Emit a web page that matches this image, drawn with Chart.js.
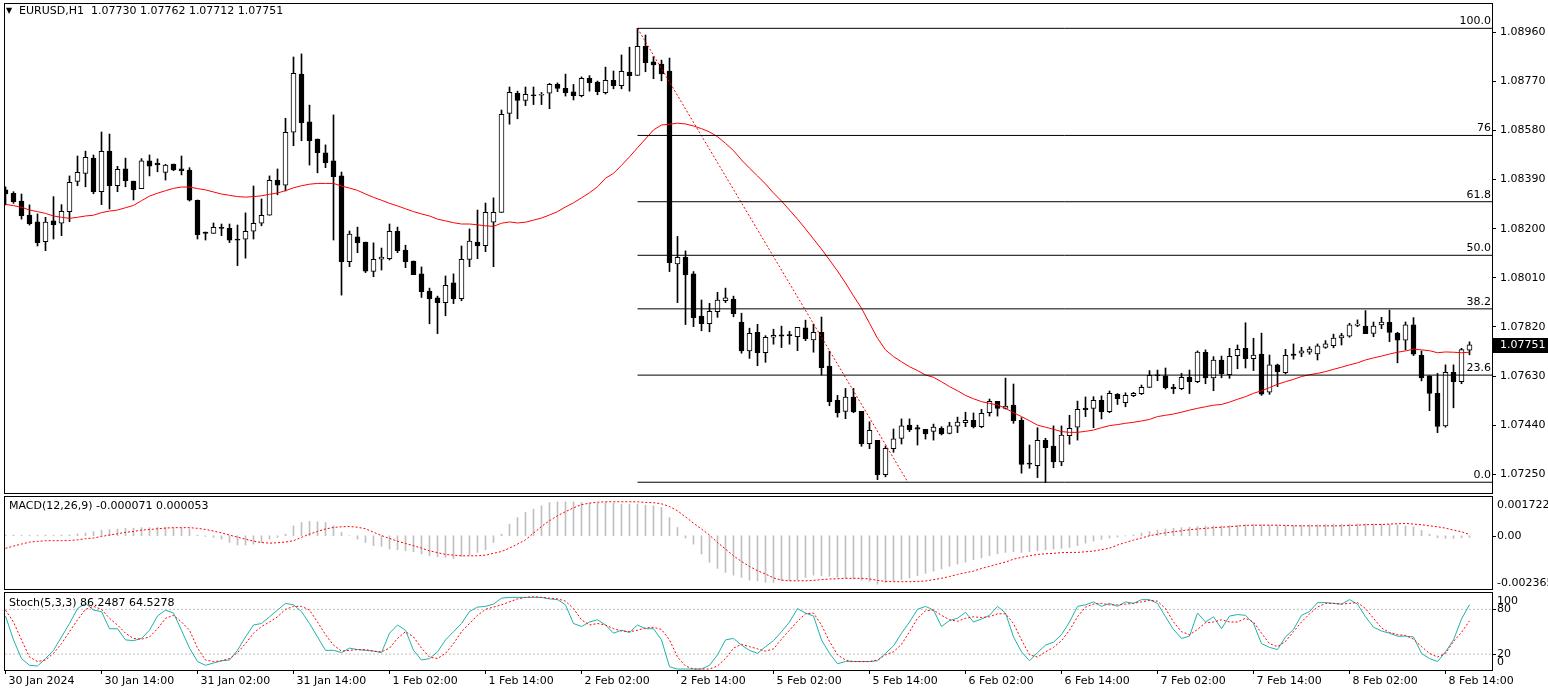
<!DOCTYPE html>
<html>
<head>
<meta charset="utf-8">
<title>EURUSD,H1</title>
<script src="https://cdn.jsdelivr.net/npm/chart.js@4.4.1/dist/chart.umd.min.js"></script>
<style>
    html, body { margin: 0; padding: 0; background: #ffffff; }
    #wrap { position: relative; width: 1548px; height: 693px; overflow: hidden; background: #ffffff; }
    #wrap canvas { position: absolute; left: 0; }
</style>
</head>
<body>
<div id="wrap">
    <canvas id="mainChart" width="1548" height="495" style="top:0px"></canvas>
    <canvas id="macdChart" width="1548" height="96" style="top:495px"></canvas>
    <canvas id="stochChart" width="1548" height="102" style="top:591px"></canvas>
</div>
<script>
const symbolText = 'EURUSD,H1';

const opens = [
    1.08350,1.08337,1.08307,1.08253,1.08226,1.08150,1.08230,1.08221,1.08266,1.08383,
    1.08414,1.08473,1.08343,1.08500,1.08366,1.08431,1.08384,1.08355,1.08462,1.08454,
    1.08418,1.08450,1.08431,1.08427,1.08310,1.08187,1.08182,1.08203,1.08201,1.08160,
    1.08159,1.08190,1.08221,1.08252,1.08387,1.08368,1.08573,1.08798,1.08613,1.08547,
    1.08493,1.08462,1.08404,1.08072,1.08168,1.08148,1.08035,1.08082,1.08084,1.08190,
    1.08117,1.08075,1.08025,1.07959,1.07932,1.07914,1.07990,1.07929,1.08081,1.08148,
    1.08134,1.08225,1.08263,1.08646,1.08724,1.08696,1.08716,1.08716,1.08724,1.08758,
    1.08743,1.08729,1.08714,1.08782,1.08767,1.08726,1.08774,1.08753,1.08806,1.08793,
    1.08905,1.08845,1.08837,1.08810,1.08064,1.08089,1.08025,1.07862,1.07832,1.07879,
    1.07921,1.07928,1.07839,1.07727,1.07799,1.07720,1.07780,1.07789,1.07787,1.07782,
    1.07816,1.07770,1.07799,1.07668,1.07536,1.07493,1.07548,1.07493,1.07368,1.07381,
    1.07248,1.07349,1.07389,1.07440,1.07430,1.07424,1.07416,1.07428,1.07408,1.07436,
    1.07449,1.07459,1.07434,1.07488,1.07532,1.07505,1.07518,1.07459,1.07290,1.07283,
    1.07381,1.07359,1.07298,1.07399,1.07432,1.07506,1.07505,1.07536,1.07492,1.07559,
    1.07527,1.07554,1.07562,1.07586,1.07633,1.07631,1.07587,1.07581,1.07625,1.07608,
    1.07722,1.07623,1.07692,1.07635,1.07709,1.07737,1.07697,1.07715,1.07567,1.07673,
    1.07643,1.07715,1.07718,1.07722,1.07715,1.07741,1.07747,1.07777,1.07784,1.07826,
    1.07823,1.07795,1.07828,1.07838,1.07796,1.07769,1.07828,1.07710,1.07631,1.07563,
    1.07437,1.07644,1.07608,1.07730
];
const highs = [
    1.08362,1.08343,1.08334,1.08292,1.08257,1.08244,1.08324,1.08293,1.08404,1.08481,
    1.08500,1.08485,1.08574,1.08566,1.08441,1.08473,1.08384,1.08471,1.08485,1.08470,
    1.08449,1.08450,1.08481,1.08436,1.08311,1.08187,1.08222,1.08218,1.08218,1.08214,
    1.08261,1.08365,1.08315,1.08404,1.08431,1.08627,1.08864,1.08876,1.08678,1.08547,
    1.08524,1.08640,1.08419,1.08191,1.08206,1.08148,1.08145,1.08125,1.08218,1.08206,
    1.08136,1.08075,1.08052,1.07970,1.07939,1.08017,1.08025,1.08133,1.08199,1.08272,
    1.08299,1.08319,1.08659,1.08748,1.08732,1.08748,1.08748,1.08727,1.08762,1.08764,
    1.08798,1.08758,1.08787,1.08792,1.08771,1.08825,1.08810,1.08872,1.08902,1.08975,
    1.08949,1.08865,1.08852,1.08860,1.08170,1.08114,1.08034,1.07924,1.07911,1.07954,
    1.07970,1.07939,1.07873,1.07815,1.07830,1.07786,1.07811,1.07823,1.07803,1.07818,
    1.07846,1.07831,1.07858,1.07726,1.07555,1.07582,1.07582,1.07493,1.07453,1.07381,
    1.07359,1.07425,1.07464,1.07464,1.07440,1.07424,1.07444,1.07434,1.07451,1.07471,
    1.07490,1.07487,1.07501,1.07541,1.07532,1.07622,1.07599,1.07469,1.07363,1.07430,
    1.07389,1.07437,1.07437,1.07478,1.07533,1.07549,1.07550,1.07553,1.07572,1.07562,
    1.07565,1.07567,1.07595,1.07651,1.07653,1.07661,1.07598,1.07640,1.07653,1.07727,
    1.07731,1.07705,1.07707,1.07737,1.07750,1.07836,1.07776,1.07796,1.07711,1.07676,
    1.07733,1.07754,1.07741,1.07743,1.07754,1.07767,1.07792,1.07795,1.07834,1.07847,
    1.07883,1.07839,1.07857,1.07885,1.07799,1.07839,1.07856,1.07727,1.07631,1.07640,
    1.07673,1.07673,1.07737,1.07762
];
const lows = [
    1.08292,1.08298,1.08237,1.08214,1.08133,1.08115,1.08160,1.08173,1.08227,1.08366,
    1.08362,1.08335,1.08293,1.08276,1.08343,1.08362,1.08311,1.08355,1.08404,1.08420,
    1.08388,1.08424,1.08408,1.08307,1.08160,1.08156,1.08182,1.08173,1.08146,1.08057,
    1.08086,1.08160,1.08211,1.08252,1.08331,1.08346,1.08521,1.08540,1.08446,1.08416,
    1.08436,1.08156,1.07943,1.08053,1.08107,1.08030,1.08014,1.08040,1.08079,1.08107,
    1.08049,1.08022,1.07934,1.07832,1.07794,1.07863,1.07910,1.07921,1.08053,1.08084,
    1.08111,1.08053,1.08263,1.08604,1.08625,1.08676,1.08680,1.08680,1.08664,1.08730,
    1.08713,1.08698,1.08710,1.08732,1.08718,1.08721,1.08741,1.08741,1.08732,1.08793,
    1.08807,1.08780,1.08772,1.08034,1.07914,1.07829,1.07821,1.07805,1.07801,1.07857,
    1.07914,1.07859,1.07718,1.07698,1.07670,1.07683,1.07753,1.07740,1.07753,1.07728,
    1.07767,1.07722,1.07634,1.07515,1.07471,1.07465,1.07488,1.07358,1.07349,1.07229,
    1.07240,1.07335,1.07367,1.07415,1.07363,1.07386,1.07382,1.07402,1.07406,1.07411,
    1.07434,1.07429,1.07430,1.07475,1.07475,1.07502,1.07447,1.07254,1.07273,1.07237,
    1.07218,1.07275,1.07283,1.07366,1.07382,1.07473,1.07430,1.07464,1.07488,1.07520,
    1.07511,1.07550,1.07558,1.07586,1.07612,1.07580,1.07562,1.07577,1.07562,1.07604,
    1.07600,1.07573,1.07623,1.07621,1.07658,1.07661,1.07651,1.07555,1.07559,1.07589,
    1.07638,1.07695,1.07705,1.07714,1.07692,1.07737,1.07739,1.07750,1.07780,1.07821,
    1.07794,1.07782,1.07813,1.07763,1.07681,1.07731,1.07709,1.07611,1.07496,1.07411,
    1.07432,1.07507,1.07600,1.07712
];
const closes = [
    1.08334,1.08304,1.08250,1.08219,1.08146,1.08225,1.08215,1.08267,1.08379,1.08418,
    1.08476,1.08343,1.08499,1.08366,1.08430,1.08386,1.08351,1.08462,1.08442,1.08447,
    1.08446,1.08427,1.08424,1.08310,1.08177,1.08182,1.08205,1.08201,1.08155,1.08155,
    1.08190,1.08221,1.08252,1.08387,1.08368,1.08573,1.08801,1.08610,1.08540,1.08494,
    1.08455,1.08401,1.08072,1.08179,1.08146,1.08036,1.08081,1.08090,1.08190,1.08115,
    1.08072,1.08022,1.07956,1.07929,1.07914,1.07981,1.07929,1.08081,1.08152,1.08133,
    1.08263,1.08263,1.08642,1.08727,1.08696,1.08720,1.08714,1.08716,1.08758,1.08743,
    1.08726,1.08714,1.08782,1.08765,1.08730,1.08774,1.08753,1.08809,1.08792,1.08905,
    1.08842,1.08833,1.08799,1.08068,1.08089,1.08021,1.07856,1.07832,1.07880,1.07924,
    1.07932,1.07871,1.07727,1.07795,1.07720,1.07780,1.07787,1.07784,1.07786,1.07818,
    1.07774,1.07799,1.07662,1.07531,1.07488,1.07548,1.07491,1.07367,1.07420,1.07248,
    1.07350,1.07387,1.07437,1.07422,1.07424,1.07406,1.07432,1.07406,1.07437,1.07452,
    1.07459,1.07433,1.07486,1.07532,1.07505,1.07514,1.07457,1.07288,1.07289,1.07381,
    1.07353,1.07298,1.07401,1.07428,1.07501,1.07500,1.07536,1.07492,1.07563,1.07542,
    1.07555,1.07563,1.07586,1.07633,1.07631,1.07585,1.07581,1.07625,1.07608,1.07723,
    1.07623,1.07692,1.07639,1.07706,1.07733,1.07697,1.07711,1.07560,1.07673,1.07647,
    1.07710,1.07710,1.07727,1.07734,1.07747,1.07754,1.07777,1.07786,1.07828,1.07831,
    1.07794,1.07823,1.07839,1.07799,1.07769,1.07828,1.07714,1.07623,1.07563,1.07435,
    1.07644,1.07608,1.07732,1.07751
];
const maValues = [
    1.08294,1.08289,1.08283,1.08272,1.08266,1.08259,1.08249,1.08244,1.08240,1.08244,
    1.08249,1.08252,1.08262,1.08268,1.08272,1.08281,1.08290,1.08308,1.08326,1.08337,
    1.08347,1.08356,1.08361,1.08361,1.08355,1.08350,1.08342,1.08334,1.08329,1.08324,
    1.08322,1.08324,1.08327,1.08333,1.08338,1.08347,1.08358,1.08366,1.08372,1.08375,
    1.08375,1.08375,1.08365,1.08357,1.08348,1.08334,1.08321,1.08310,1.08298,1.08288,
    1.08277,1.08266,1.08257,1.08249,1.08237,1.08230,1.08223,1.08218,1.08218,1.08215,
    1.08211,1.08209,1.08221,1.08226,1.08222,1.08225,1.08233,1.08241,1.08253,1.08266,
    1.08284,1.08300,1.08319,1.08339,1.08362,1.08395,1.08414,1.08445,1.08478,1.08513,
    1.08547,1.08582,1.08601,1.08604,1.08608,1.08605,1.08597,1.08587,1.08574,1.08556,
    1.08530,1.08502,1.08466,1.08434,1.08404,1.08373,1.08338,1.08307,1.08272,1.08237,
    1.08199,1.08160,1.08121,1.08079,1.08036,1.07990,1.07940,1.07892,1.07834,1.07776,
    1.07731,1.07705,1.07685,1.07666,1.07651,1.07634,1.07625,1.07608,1.07589,1.07573,
    1.07555,1.07542,1.07531,1.07524,1.07518,1.07505,1.07488,1.07473,1.07457,1.07440,
    1.07432,1.07424,1.07415,1.07412,1.07412,1.07416,1.07421,1.07430,1.07438,1.07442,
    1.07447,1.07451,1.07456,1.07462,1.07473,1.07478,1.07483,1.07490,1.07498,1.07505,
    1.07511,1.07517,1.07520,1.07529,1.07540,1.07550,1.07563,1.07573,1.07585,1.07598,
    1.07608,1.07617,1.07628,1.07635,1.07640,1.07647,1.07656,1.07664,1.07673,1.07681,
    1.07692,1.07700,1.07707,1.07715,1.07722,1.07727,1.07734,1.07731,1.07728,1.07720,
    1.07723,1.07722,1.07720,1.07722
];

const macdHist = [
    0.00003,0.00003,0.00002,0.00002,0.00002,0.00003,0.00002,0.00003,0.00004,0.00008,
    0.00012,0.00018,0.00025,0.00027,0.00030,0.00033,0.00034,0.00036,0.00036,0.00037,
    0.00037,0.00034,0.00034,0.00030,0.00003,-0.00003,-0.00007,-0.00015,-0.00030,-0.00041,
    -0.00041,-0.00037,-0.00030,-0.00015,-0.00007,0.00007,0.00044,0.00059,0.00064,0.00062,
    0.00059,0.00044,0.00015,0.00000,-0.00015,-0.00030,-0.00044,-0.00047,-0.00059,-0.00062,
    -0.00067,-0.00071,-0.00081,-0.00089,-0.00093,-0.00096,-0.00101,-0.00092,-0.00086,-0.00074,
    -0.00062,-0.00030,0.00007,0.00052,0.00081,0.00104,0.00118,0.00133,0.00148,0.00151,
    0.00151,0.00151,0.00148,0.00145,0.00145,0.00148,0.00145,0.00141,0.00141,0.00141,
    0.00136,0.00133,0.00126,0.00081,0.00037,-0.00010,-0.00037,-0.00081,-0.00118,-0.00145,
    -0.00163,-0.00175,-0.00185,-0.00197,-0.00200,-0.00207,-0.00207,-0.00200,-0.00200,-0.00195,
    -0.00185,-0.00175,-0.00178,-0.00180,-0.00185,-0.00188,-0.00192,-0.00198,-0.00203,-0.00215,
    -0.00207,-0.00201,-0.00195,-0.00188,-0.00178,-0.00167,-0.00157,-0.00147,-0.00136,-0.00126,
    -0.00117,-0.00107,-0.00098,-0.00089,-0.00080,-0.00074,-0.00071,-0.00074,-0.00071,-0.00067,
    -0.00062,-0.00059,-0.00056,-0.00052,-0.00044,-0.00033,-0.00024,-0.00016,-0.00010,-0.00006,
    -0.00001,0.00004,0.00012,0.00019,0.00025,0.00030,0.00033,0.00036,0.00038,0.00041,
    0.00043,0.00044,0.00044,0.00046,0.00047,0.00049,0.00050,0.00049,0.00047,0.00046,
    0.00046,0.00046,0.00047,0.00049,0.00049,0.00050,0.00052,0.00052,0.00053,0.00053,
    0.00053,0.00052,0.00052,0.00050,0.00047,0.00044,0.00040,0.00024,0.00007,-0.00009,
    -0.00012,-0.00012,-0.00009,-0.000071
];
const macdSignal = [
    -0.00056,-0.00046,-0.00037,-0.00028,-0.00025,-0.00022,-0.00022,-0.00022,-0.00021,-0.00018,
    -0.00013,-0.00010,-0.00003,0.00003,0.00009,0.00015,0.00019,0.00025,0.00028,0.00031,
    0.00034,0.00036,0.00036,0.00036,0.00033,0.00028,0.00021,0.00013,0.00003,-0.00006,
    -0.00015,-0.00024,-0.00030,-0.00033,-0.00031,-0.00028,-0.00022,-0.00007,0.00007,0.00019,
    0.00030,0.00037,0.00040,0.00041,0.00038,0.00031,0.00016,0.00001,-0.00012,-0.00024,
    -0.00034,-0.00044,-0.00055,-0.00067,-0.00075,-0.00083,-0.00086,-0.00089,-0.00089,-0.00089,
    -0.00086,-0.00078,-0.00070,-0.00055,-0.00037,-0.00018,0.00012,0.00041,0.00067,0.00089,
    0.00107,0.00124,0.00138,0.00145,0.00149,0.00151,0.00151,0.00151,0.00151,0.00151,
    0.00148,0.00147,0.00142,0.00130,0.00111,0.00084,0.00056,0.00030,0.00003,-0.00030,
    -0.00059,-0.00089,-0.00114,-0.00136,-0.00155,-0.00170,-0.00187,-0.00197,-0.00200,-0.00200,
    -0.00200,-0.00198,-0.00195,-0.00192,-0.00191,-0.00189,-0.00189,-0.00189,-0.00192,-0.00198,
    -0.00203,-0.00204,-0.00204,-0.00204,-0.00203,-0.00201,-0.00195,-0.00189,-0.00181,-0.00172,
    -0.00164,-0.00157,-0.00145,-0.00136,-0.00126,-0.00117,-0.00104,-0.00096,-0.00089,-0.00083,
    -0.00080,-0.00078,-0.00075,-0.00074,-0.00074,-0.00071,-0.00068,-0.00062,-0.00055,-0.00041,
    -0.00030,-0.00019,-0.00010,0.00000,0.00007,0.00013,0.00018,0.00022,0.00027,0.00030,
    0.00033,0.00036,0.00038,0.00040,0.00043,0.00046,0.00047,0.00047,0.00047,0.00047,
    0.00046,0.00044,0.00044,0.00044,0.00044,0.00044,0.00044,0.00044,0.00046,0.00047,
    0.00049,0.00050,0.00050,0.00052,0.00053,0.00055,0.00052,0.00049,0.00044,0.00040,
    0.00034,0.00025,0.00018,0.000053
];

const stochMain = [
    71,39,14,5,4,14,25,43,61,81,
    88,79,77,54,54,39,38,41,52,71,
    79,75,52,28,10,5,8,11,12,25,
    43,59,61,70,79,88,86,77,61,43,
    25,25,22,28,26,25,24,22,48,59,
    52,25,12,14,23,39,50,61,77,83,
    84,87,95,96,96,96,96,96,94,93,
    86,61,57,63,66,59,48,52,49,59,
    54,54,39,3,0,0,0,0,5,19,
    39,41,32,25,21,30,38,50,63,81,
    75,71,39,21,7,10,10,10,10,11,
    21,31,48,63,80,84,79,57,65,68,
    76,63,67,72,84,75,43,23,11,22,
    32,36,46,63,84,86,90,84,88,84,
    90,88,93,93,88,70,53,41,44,75,
    63,70,54,71,73,72,61,34,29,26,
    43,53,72,77,89,89,88,87,93,87,
    70,56,51,48,44,44,43,21,14,10,
    23,39,67,86.2487
];
const stochSignal = [
    79,63,39,16,10,12,21,34,50,66,
    80,84,80,68,59,48,41,40,43,54,
    68,72,63,52,28,12,10,11,14,22,
    34,48,57,63,70,80,84,84,79,63,
    46,32,24,25,26,26,24,23,28,41,
    50,43,28,16,14,21,34,50,61,72,
    80,83,86,90,94,96,97,96,95,94,
    91,81,66,59,61,59,54,51,50,52,
    55,56,53,39,16,4,0,0,0,4,
    14,28,33,30,27,24,27,40,52,64,
    74,75,59,37,19,12,10,10,10,12,
    19,23,33,50,68,78,79,72,66,64,
    68,70,69,70,74,74,61,39,19,16,
    23,29,38,52,70,83,87,88,86,86,
    87,88,90,92,91,81,63,50,46,53,
    62,63,66,63,63,68,63,48,34,30,
    37,50,63,74,83,88,88,87,88,89,
    81,68,55,49,46,45,40,30,21,16,
    21,37,49,64.5278
];

const priceTicks = [1.0896, 1.0877, 1.0858, 1.0839, 1.0820, 1.0801, 1.0782, 1.0763, 1.0744, 1.0725];
const timeTickIndex = [0, 12, 24, 36, 48, 60, 72, 84, 96, 108, 120, 132, 144, 156, 168, 180];
const timeTickLabels = ['30 Jan 2024', '30 Jan 14:00', '31 Jan 02:00', '31 Jan 14:00', '1 Feb 02:00', '1 Feb 14:00',
    '2 Feb 02:00', '2 Feb 14:00', '5 Feb 02:00', '5 Feb 14:00', '6 Feb 02:00', '6 Feb 14:00',
    '7 Feb 02:00', '7 Feb 14:00', '8 Feb 02:00', '8 Feb 14:00'];

const fibRatios = [0, 23.6, 38.2, 50, 61.8, 76.4, 100];
const fibTexts = ['0.0', '23.6', '38.2', '50.0', '61.8', '76', '100.0'];
const fibHigh = 1.08975, fibLow = 1.07219;
const fibStartBar = 79, fibEndBar = 112.8;

const stochLevels = [80, 20];

document.addEventListener('DOMContentLoaded', function() {

    const fontFamily = "'DejaVu Sans', 'Liberation Sans', sans-serif";
    Chart.defaults.font.family = fontFamily;
    Chart.defaults.font.size = 11;
    Chart.defaults.color = '#000000';

    const mtRed = '#ff0000';
    const mtSilver = '#c0c0c0';
    const mtTeal = '#20b2aa';

    // shared horizontal axis: one unit per hourly bar, 8px apart
    const xMin = -0.0625, xMax = 185.8125;
    const n = closes.length;
    const fibLevel = r => fibLow + (fibHigh - fibLow) * r / 100;

    const framePlugin = {
        id: 'frame',
        afterDraw(chart) {
            const { ctx, chartArea: a } = chart;
            ctx.save();
            ctx.strokeStyle = '#000000';
            ctx.lineWidth = 1;
            ctx.strokeRect(a.left - 0.5, a.top - 0.5, a.right - a.left + 1, a.bottom - a.top + 1);
            ctx.restore();
        }
    };

    const sideLabels = {
        id: 'sideLabels',
        afterDraw(chart, args, opts) {
            const { ctx, chartArea: a, scales: { y } } = chart;
            ctx.save();
            ctx.font = '11px ' + fontFamily;
            ctx.fillStyle = '#000000';
            ctx.textBaseline = 'middle';
            ctx.textAlign = 'left';
            (opts.items || []).forEach(it => {
                const py = y.getPixelForValue(it.value);
                if (!it.dy) ctx.fillRect(a.right, Math.round(py), 4, 1);
                ctx.fillText(it.text, a.right + 5, py + it.dy);
            });
            (opts.captions || []).forEach(c => {
                ctx.fillText(c.text, c.x, c.y);
            });
            ctx.restore();
        }
    };

    const mainTexts = {
        id: 'mainTexts',
        afterDraw(chart) {
            const { ctx, chartArea: a, scales: { y } } = chart;
            ctx.save();
            ctx.fillStyle = '#000000';
            ctx.textBaseline = 'middle';
            ctx.font = '8px ' + fontFamily;
            ctx.fillText('\u25BC', 6, 11);
            ctx.font = '11px ' + fontFamily;
            const last = n - 1;
            ctx.fillText(symbolText + '  ' + [opens[last], highs[last], lows[last], closes[last]].map(v => v.toFixed(5)).join(' '), 19, 11);

            ctx.textAlign = 'right';
            ctx.textBaseline = 'bottom';
            fibRatios.forEach((r, i) => {
                ctx.fillText(fibTexts[i], a.right - 1, Math.round(y.getPixelForValue(fibLevel(r))) - 1);
            });

            const py = Math.round(y.getPixelForValue(closes[last]));
            ctx.fillRect(a.right + 1, py - 7, 1548 - a.right - 1, 15);
            ctx.fillStyle = '#ffffff';
            ctx.textAlign = 'left';
            ctx.textBaseline = 'middle';
            ctx.fillText(closes[last].toFixed(5), a.right + 8, py + 0.5);
            ctx.restore();
        }
    };

    const fibSets = fibRatios.map(r => ({
        type: 'line',
        data: [{ x: fibStartBar, y: fibLevel(r) }, { x: xMax, y: fibLevel(r) }],
        borderColor: '#000000',
        borderWidth: 1,
        pointRadius: 0,
        order: 0
    }));

    new Chart(document.getElementById('mainChart'), {
        type: 'bar',
        data: {
            datasets: [
                {
                    type: 'line',
                    data: maValues.map((v, i) => ({ x: i, y: v })),
                    borderColor: mtRed,
                    borderWidth: 1,
                    pointRadius: 0,
                    order: 1
                },
                ...fibSets,
                {
                    type: 'line',
                    data: [{ x: fibStartBar, y: fibHigh }, { x: fibEndBar, y: fibLow }],
                    borderColor: mtRed,
                    borderWidth: 1,
                    borderDash: [2, 2],
                    pointRadius: 0,
                    order: 0
                },
                {
                    data: highs.map((h, i) => ({ x: i, y: [lows[i], h] })),
                    backgroundColor: '#000000',
                    barThickness: 1,
                    grouped: false,
                    order: 3
                },
                {
                    data: opens.map((o, i) => ({ x: i, y: [o, closes[i]] })),
                    backgroundColor: ctx => closes[ctx.dataIndex] >= opens[ctx.dataIndex] ? '#ffffff' : '#000000',
                    borderColor: '#000000',
                    borderWidth: 1,
                    borderSkipped: false,
                    barThickness: 5,
                    minBarLength: 1,
                    grouped: false,
                    order: 2
                }
            ]
        },
        options: {
            responsive: false,
            animation: false,
            devicePixelRatio: 1,
            layout: { padding: { left: 5, top: 4, right: 0, bottom: 2 } },
            plugins: { legend: { display: false }, tooltip: { enabled: false } },
            scales: {
                x: { type: 'linear', min: xMin, max: xMax, offset: false, display: false, grid: { offset: false } },
                y: {
                    position: 'right',
                    min: 1.071774,
                    max: 1.090691,
                    beginAtZero: false,
                    afterBuildTicks: s => { s.ticks = priceTicks.map(v => ({ value: v })); },
                    afterFit: s => { s.width = 56; s.paddingTop = 0; s.paddingBottom = 0; },
                    ticks: { callback: v => v.toFixed(5), color: '#000000', padding: 4, autoSkip: false },
                    grid: { drawOnChartArea: false, tickLength: 4, color: '#000000' },
                    border: { display: false }
                }
            }
        },
        plugins: [framePlugin, mainTexts]
    });

    new Chart(document.getElementById('macdChart'), {
        type: 'bar',
        data: {
            datasets: [
                {
                    type: 'line',
                    data: macdSignal.map((v, i) => ({ x: i, y: v })),
                    borderColor: mtRed,
                    borderWidth: 1,
                    borderDash: [2, 2],
                    pointRadius: 0,
                    order: 0
                },
                {
                    data: macdHist.map((v, i) => ({ x: i, y: v })),
                    backgroundColor: mtSilver,
                    barThickness: 1,
                    order: 1
                }
            ]
        },
        options: {
            responsive: false,
            animation: false,
            devicePixelRatio: 1,
            layout: { padding: { left: 5, top: 2, right: 0, bottom: 2 } },
            plugins: {
                legend: { display: false },
                tooltip: { enabled: false },
                sideLabels: {
                    items: [
                        { value: 0.001722, text: '0.001722', dy: 8 },
                        { value: 0, text: '0.00', dy: 0 },
                        { value: -0.002365, text: '-0.002365', dy: -6 }
                    ],
                    captions: [
                        { text: 'MACD(12,26,9) ' + macdHist[n - 1].toFixed(6) + ' ' + macdSignal[n - 1].toFixed(6), x: 9, y: 11 }
                    ]
                }
            },
            scales: {
                x: { type: 'linear', min: xMin, max: xMax, offset: false, display: false, grid: { offset: false } },
                y: {
                    position: 'right',
                    min: -0.002365,
                    max: 0.001722,
                    beginAtZero: false,
                    afterFit: s => { s.width = 56; s.paddingTop = 0; s.paddingBottom = 0; },
                    ticks: { display: false },
                    grid: { display: false },
                    border: { display: false }
                }
            }
        },
        plugins: [framePlugin, sideLabels]
    });

    new Chart(document.getElementById('stochChart'), {
        type: 'line',
        data: {
            datasets: [
                {
                    data: stochMain.map((v, i) => ({ x: i, y: v })),
                    borderColor: mtTeal,
                    borderWidth: 1,
                    pointRadius: 0,
                    order: 1
                },
                {
                    data: stochSignal.map((v, i) => ({ x: i, y: v })),
                    borderColor: mtRed,
                    borderWidth: 1,
                    borderDash: [2, 2],
                    pointRadius: 0,
                    order: 0
                },
                ...stochLevels.map(lv => ({
                    data: [{ x: xMin, y: lv }, { x: xMax, y: lv }],
                    borderColor: mtSilver,
                    borderWidth: 1,
                    borderDash: [2, 2],
                    pointRadius: 0,
                    order: 2
                }))
            ]
        },
        options: {
            responsive: false,
            animation: false,
            devicePixelRatio: 1,
            layout: { padding: { left: 5, top: 2, right: 0, bottom: 0 } },
            plugins: {
                legend: { display: false },
                tooltip: { enabled: false },
                sideLabels: {
                    items: [
                        { value: 100, text: '100', dy: 7 },
                        { value: 80, text: '80', dy: 0 },
                        { value: 20, text: '20', dy: 0 },
                        { value: 0, text: '0', dy: -7 }
                    ],
                    captions: [
                        { text: 'Stoch(5,3,3) ' + stochMain[n - 1].toFixed(4) + ' ' + stochSignal[n - 1].toFixed(4), x: 9, y: 12 }
                    ]
                }
            },
            scales: {
                x: {
                    type: 'linear',
                    min: xMin,
                    max: xMax,
                    offset: false,
                    afterBuildTicks: s => { s.ticks = timeTickIndex.map(v => ({ value: v })); },
                    afterFit: s => { s.height = 23; s.paddingLeft = 0; s.paddingRight = 0; },
                    ticks: {
                        callback: (v, i) => timeTickLabels[i],
                        align: 'start',
                        labelOffset: 3,
                        padding: 1,
                        maxRotation: 0,
                        autoSkip: false,
                        color: '#000000'
                    },
                    grid: { drawOnChartArea: false, offset: false, tickLength: 4, color: '#000000' },
                    border: { display: false }
                },
                y: {
                    position: 'right',
                    min: -1.34,
                    max: 101.9,
                    afterFit: s => { s.width = 56; s.paddingTop = 0; s.paddingBottom = 0; },
                    ticks: { display: false },
                    grid: { display: false },
                    border: { display: false }
                }
            }
        },
        plugins: [framePlugin, sideLabels]
    });
});
</script>
</body>
</html>
